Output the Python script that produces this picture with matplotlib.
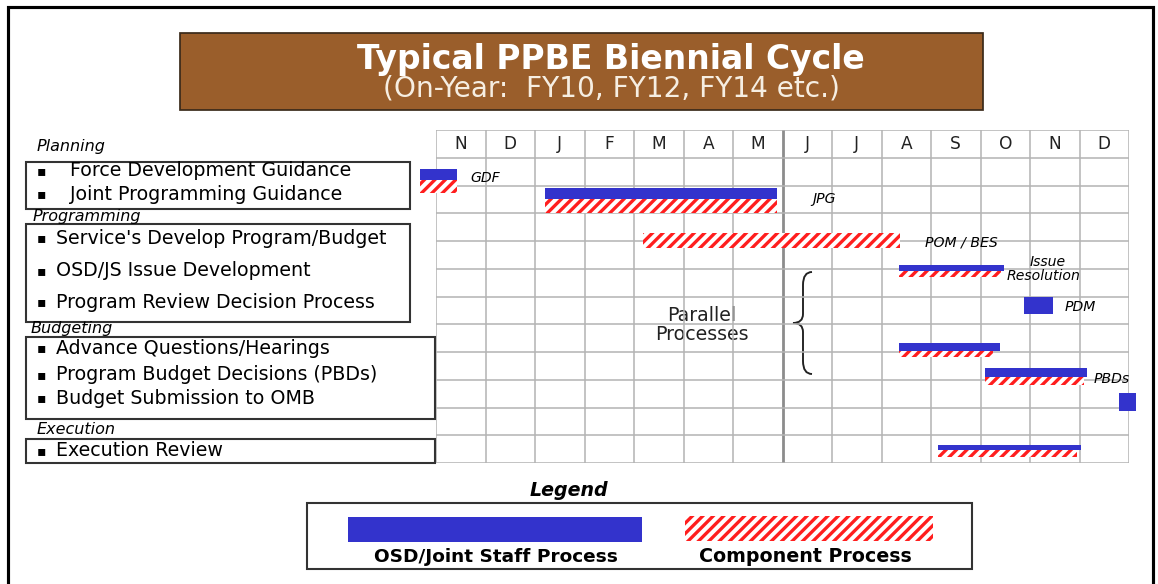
import matplotlib.pyplot as plt
from matplotlib.patches import Rectangle, PathPatch
from matplotlib.path import Path

# chart data
months = ["N", "D", "J", "F", "M", "A", "M", "J", "J", "A", "S", "O", "N", "D"]

sections = ["Planning", "Programming", "Budgeting", "Execution"]
section_items = [
    ["Force Development Guidance", "Joint Programming Guidance"],
    ["Service's Develop Program/Budget", "OSD/JS Issue Development",
     "Program Review Decision Process"],
    ["Advance Questions/Hearings", "Program Budget Decisions (PBDs)",
     "Budget Submission to OMB"],
    ["Execution Review"],
]

# OSD / Joint Staff process bars (months from start of first Nov column, grid row)
osd_names = ["GDF", "JPG", "Issue Resolution", "PDM", "Advance Questions",
             "PBDs", "Budget Submission", "Execution Review"]
osd_start = [-0.33, 2.20, 9.35, 11.88, 9.35, 11.10, 13.80, 10.14]
osd_end = [0.42, 6.89, 11.47, 12.46, 11.40, 13.15, 14.15, 13.03]
osd_row = [0.40, 1.08, 3.86, 5.02, 6.68, 7.58, 8.48, 10.36]
osd_thick = [0.39, 0.40, 0.22, 0.61, 0.29, 0.32, 0.65, 0.18]

# Component process bars
comp_names = ["GDF", "JPG", "POM / BES", "Issue Resolution", "Advance Questions",
              "PBDs", "Execution Review"]
comp_start = [-0.33, 2.20, 4.18, 9.35, 9.35, 11.10, 10.14]
comp_end = [0.42, 6.89, 9.37, 11.42, 11.25, 13.10, 12.95]
comp_row = [0.79, 1.48, 2.71, 4.08, 6.97, 7.90, 10.54]
comp_thick = [0.47, 0.51, 0.54, 0.22, 0.21, 0.29, 0.25]

# bar labels
bar_labels = ["GDF", "JPG", "POM / BES", "Issue", "Resolution", "PDM", "PBDs"]
bar_label_x = [0.69, 7.6, 9.88, 12.0, 11.52, 12.69, 13.29]
bar_label_y = [0.72, 1.48, 3.07, 3.75, 4.26, 5.38, 7.98]

DPI = 125
W, H = 1158, 584


def px(v):
    # font size given in pixels -> points
    return v * 72.0 / DPI


plt.rcParams['font.family'] = ['DejaVu Sans']
plt.rcParams['hatch.linewidth'] = 1.9

BLUE = "#3333CC"
RED = "#FF1E1E"
GRID = "#B4B4B4"
HATCH = "////"

fig = plt.figure(figsize=(W / DPI, H / DPI), dpi=DPI)
bg = fig.add_axes([0, 0, 1, 1])
bg.set_xlim(0, W)
bg.set_ylim(H, 0)
bg.axis("off")

# outer frame
bg.plot([8, 8, 1153, 1153], [590, 7, 7, 590], color="black", lw=1.8, solid_joinstyle="miter")

# title box
bg.add_patch(Rectangle((180, 33), 803, 77, facecolor="#9A5E2B", edgecolor="#3A2A1A", lw=1.0))
bg.text(611, 59, "Typical PPBE Biennial Cycle", ha="center", va="center",
        fontsize=px(33), fontweight="bold", color="white")
bg.text(611, 89, "(On-Year:  FY10, FY12, FY14 etc.)", ha="center", va="center",
        fontsize=px(28), color="#F6EEE2")

# left side boxes
section_label_pos = [(37, 146), (33, 217), (31, 328), (37, 430)]
box_rects = [(26, 162, 410, 209), (26, 224, 410, 322), (26, 337, 435, 419), (26, 439, 435, 463)]
item_y = [[171, 194], [238, 271, 302], [348, 375, 398], [451]]
item_x = [70, 56, 56, 56]

for i, name in enumerate(sections):
    lx, ly = section_label_pos[i]
    bg.text(lx, ly, name, ha="left", va="center", fontsize=px(16), style="italic")
    x0, y0, x1, y1 = box_rects[i]
    bg.add_patch(Rectangle((x0, y0), x1 - x0, y1 - y0, facecolor="none",
                           edgecolor="#333333", lw=1.2))
    for txt, yy in zip(section_items[i], item_y[i]):
        bg.text(41, yy, "\u25aa", ha="center", va="center", fontsize=px(14))
        bg.text(item_x[i], yy, txt, ha="left", va="center", fontsize=px(19))

# gantt grid
gx0, gx1, gy0, gy1 = 436, 1129, 130, 463
ax = fig.add_axes([gx0 / W, 1 - gy1 / H, (gx1 - gx0) / W, (gy1 - gy0) / H])
ax.set_xlim(0, len(months))
ax.set_ylim(11, -1)
ax.axis("off")

for k in range(len(months) + 1):
    if k == 7:
        ax.axvline(k, color="#8C8C8C", lw=1.6, zorder=1)
    else:
        ax.axvline(k, color=GRID, lw=0.9, zorder=1)
for r in range(-1, 12):
    ax.axhline(r, color=GRID, lw=0.9, zorder=1)

for k, m in enumerate(months):
    ax.text(k + 0.5, -0.5, m, ha="center", va="center", fontsize=px(17), color="#222222")

# component (hatched) bars
ax.barh([r + t / 2 for r, t in zip(comp_row, comp_thick)],
        [e - s for s, e in zip(comp_start, comp_end)],
        left=comp_start, height=comp_thick,
        facecolor="white", edgecolor=RED, hatch=HATCH, lw=0, zorder=3, clip_on=False)

# OSD / Joint Staff bars
ax.barh([r + t / 2 for r, t in zip(osd_row, osd_thick)],
        [e - s for s, e in zip(osd_start, osd_end)],
        left=osd_start, height=osd_thick,
        color=BLUE, lw=0, zorder=4, clip_on=False)

for lab, lx, ly in zip(bar_labels, bar_label_x, bar_label_y):
    ax.text(lx, ly, lab, ha="left", va="center", fontsize=px(14), style="italic",
            clip_on=False, zorder=5)

# parallel processes note with brace
bg.text(702, 325, "Parallel\nProcesses", ha="center", va="center",
        fontsize=px(19), linespacing=1.05, color="#222222")
brace = Path(
    [(812, 272), (803, 272), (803, 285), (803, 314), (803, 323), (793, 323),
     (803, 323), (803, 332), (803, 361), (803, 374), (812, 374)],
    [Path.MOVETO, Path.CURVE3, Path.CURVE3, Path.LINETO, Path.CURVE3, Path.CURVE3,
     Path.CURVE3, Path.CURVE3, Path.LINETO, Path.CURVE3, Path.CURVE3])
bg.add_patch(PathPatch(brace, facecolor="none", edgecolor="#222222", lw=1.1))

# legend
bg.text(569, 490, "Legend", ha="center", va="center", fontsize=px(19),
        fontweight="bold", style="italic")
bg.add_patch(Rectangle((307, 503), 665, 66, facecolor="none", edgecolor="#333333", lw=1.2))
bg.add_patch(Rectangle((348, 517), 294, 25, facecolor=BLUE, lw=0))
bg.add_patch(Rectangle((685, 516), 248, 25, facecolor="white", edgecolor=RED, hatch=HATCH, lw=0))
bg.text(496, 557, "OSD/Joint Staff Process", ha="center", va="center",
        fontsize=px(18.5), fontweight="bold")
bg.text(805, 556, "Component Process", ha="center", va="center",
        fontsize=px(19), fontweight="bold")

plt.savefig("out.png", dpi=DPI)
